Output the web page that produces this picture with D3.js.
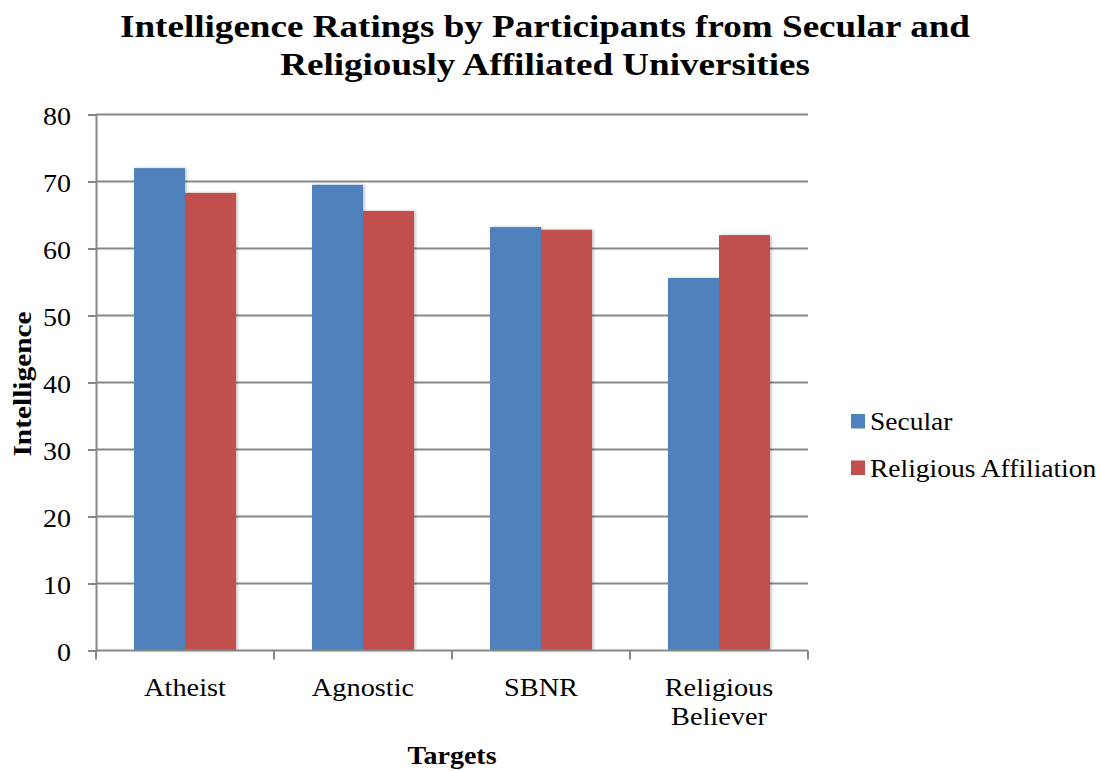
<!DOCTYPE html>
<html>
<head>
<meta charset="utf-8">
<script src="https://cdn.jsdelivr.net/npm/d3@7"></script>
<style>
  body { margin: 0; background: #fff; }
  svg { display: block; }
</style>
</head>
<body>
<svg id="chart" width="1101" height="771"></svg>
<script>
// Chart data
const categories = ["Atheist", "Agnostic", "SBNR", "Religious Believer"];
const seriesNames = ["Secular", "Religious Affiliation"];
const secular = [72.0, 69.5, 63.2, 55.6];
const religiousAffiliation = [68.3, 65.6, 62.8, 62.0];
const yTicks = [0, 10, 20, 30, 40, 50, 60, 70, 80];
const colors = ["#4F81BD", "#C0504D"];

const seriesValues = [secular, religiousAffiliation];
const rows = categories.map((c, i) => ({
  category: c,
  values: seriesNames.map((s, j) => ({ series: s, value: seriesValues[j][i], idx: j }))
}));

const SERIF = "'Liberation Serif', 'Times New Roman', serif";
const svg = d3.select("#chart");
const plot = { left: 96, right: 808, top: 114.5, bottom: 650.5 };

const x = d3.scaleBand().domain(categories).range([plot.left, plot.right]);
const x1 = d3.scaleBand().domain(seriesNames)
  .range([0, x.bandwidth()])
  .paddingInner(0).paddingOuter(0.745);
const y = d3.scaleLinear().domain([0, 80]).range([plot.bottom, plot.top]);

const defs = svg.append("defs");
const f = defs.append("filter").attr("id", "shadow")
  .attr("x", "-20%").attr("y", "-5%").attr("width", "140%").attr("height", "110%");
f.append("feDropShadow").attr("dx", 1.5).attr("dy", 0).attr("stdDeviation", 1.5)
  .attr("flood-color", "#000").attr("flood-opacity", 0.25);

// Helper: text widened horizontally around its anchor point
function wideText(parent, tx, ty, sx) {
  return parent.append("text")
    .attr("transform", `translate(${tx},${ty}) scale(${sx},1)`)
    .attr("font-family", SERIF).attr("fill", "#000");
}

// Gridlines
svg.append("g")
  .selectAll("line")
  .data(yTicks.filter(d => d > 0))
  .join("line")
  .attr("x1", plot.left).attr("x2", plot.right)
  .attr("y1", d => y(d)).attr("y2", d => y(d))
  .attr("stroke", "#878787").attr("stroke-width", 2);

// Y axis
const yAxis = d3.axisLeft(y).tickValues(yTicks).tickSize(8).tickPadding(0);
const gy = svg.append("g").attr("transform", `translate(${plot.left},0)`).call(yAxis);
gy.select(".domain").attr("stroke", "#878787").attr("stroke-width", 2);
gy.selectAll(".tick line").attr("stroke", "#878787").attr("stroke-width", 2);
gy.selectAll(".tick text")
  .attr("x", null).attr("dy", null)
  .attr("transform", "translate(-25,10) scale(1.12,1)")
  .attr("font-family", SERIF)
  .attr("font-size", 25).attr("fill", "#000");

// Bars
const groups = svg.append("g")
  .selectAll("g")
  .data(rows)
  .join("g")
  .attr("transform", d => `translate(${x(d.category)},0)`);

groups.selectAll("rect")
  .data(d => d.values)
  .join("rect")
  .attr("x", d => x1(d.series))
  .attr("width", x1.bandwidth())
  .attr("y", d => y(d.value))
  .attr("height", d => y(0) - y(d.value))
  .attr("fill", d => colors[d.idx])
  .attr("filter", "url(#shadow)");

// X axis line with category dividers
const gx = svg.append("g").attr("transform", `translate(0,${plot.bottom})`);
gx.append("line")
  .attr("x1", plot.left).attr("x2", plot.right)
  .attr("stroke", "#878787").attr("stroke-width", 2);
const dividers = categories.map(c => x(c)).concat([plot.right]);
gx.selectAll("line.div")
  .data(dividers)
  .join("line").attr("class", "div")
  .attr("x1", d => d).attr("x2", d => d)
  .attr("y1", 0).attr("y2", 9)
  .attr("stroke", "#878787").attr("stroke-width", 2);

// Category labels
const catG = svg.append("g");
categories.forEach(c => {
  const words = c === "Religious Believer" ? ["Religious", "Believer"] : [c];
  const t = wideText(catG, x(c) + x.bandwidth() / 2, 696, 1.09)
    .attr("text-anchor", "middle").attr("font-size", 26);
  words.forEach((w, i) => {
    t.append("tspan").attr("x", 0).attr("y", i * 29).text(w);
  });
});

// Title
const title = wideText(svg, 545, 0, 1.16)
  .attr("text-anchor", "middle")
  .attr("font-weight", "bold").attr("font-size", 32);
title.append("tspan").attr("x", 0).attr("y", 37).text("Intelligence Ratings by Participants from Secular and");
title.append("tspan").attr("x", 0).attr("y", 75).text("Religiously Affiliated Universities");

// Axis titles
wideText(svg, 452, 764, 1.12)
  .attr("text-anchor", "middle")
  .attr("font-weight", "bold").attr("font-size", 25)
  .text("Targets");

svg.append("text")
  .attr("transform", "translate(31,384) rotate(-90) scale(1.13,1)")
  .attr("text-anchor", "middle")
  .attr("font-family", SERIF)
  .attr("font-weight", "bold").attr("font-size", 26).attr("fill", "#000")
  .text("Intelligence");

// Legend
const legend = svg.append("g")
  .selectAll("g")
  .data(seriesNames)
  .join("g")
  .attr("transform", (d, i) => `translate(851,${414 + i * 46.5})`);
legend.append("rect").attr("width", 14).attr("height", 14.5).attr("fill", (d, i) => colors[i]);
legend.append("text")
  .attr("transform", "translate(19,16) scale(1.1,1)")
  .attr("font-family", SERIF)
  .attr("font-size", 25).attr("fill", "#000")
  .text(d => d);
</script>
</body>
</html>
